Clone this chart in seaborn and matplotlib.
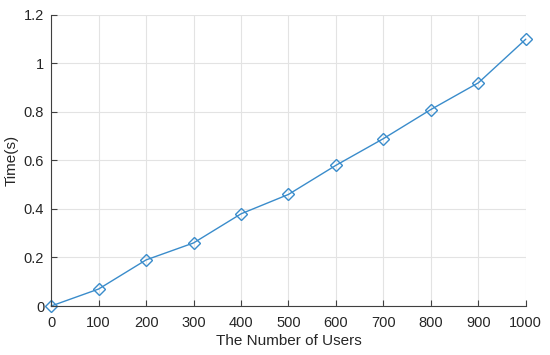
import matplotlib
matplotlib.use("Agg")
import matplotlib.pyplot as plt
import pandas as pd
import seaborn as sns

# data
users = [0, 100, 200, 300, 400, 500, 600, 700, 800, 900, 1000]
time_s = [0.0, 0.07, 0.19, 0.26, 0.38, 0.46, 0.58, 0.69, 0.81, 0.92, 1.10]
x_ticks = [0, 100, 200, 300, 400, 500, 600, 700, 800, 900, 1000]
y_ticks = [0, 0.2, 0.4, 0.6, 0.8, 1.0, 1.2]
y_labels = ["0", "0.2", "0.4", "0.6", "0.8", "1", "1.2"]

df = pd.DataFrame({"users": users, "time": time_s})

sns.set_style("white")
plt.rcParams["font.family"] = ["Liberation Sans", "DejaVu Sans"]

fig = plt.figure(figsize=(5.5, 3.55), dpi=100)
ax = fig.add_axes([0.093, 0.138, 0.863, 0.82])

sns.lineplot(data=df, x="users", y="time", ax=ax, color="#3a8ccb",
             linewidth=1.0, marker="D", markersize=6,
             markerfacecolor="none", markeredgecolor="#3a8ccb",
             markeredgewidth=1.0, clip_on=False)

ax.set_xlim(0, 1000)
ax.set_ylim(0, 1.2)
ax.set_xticks(x_ticks)
ax.set_yticks(y_ticks)
ax.set_yticklabels(y_labels)
ax.grid(True, color="#e3e3e3", linewidth=0.8)
ax.set_axisbelow(True)

for side in ["top", "right"]:
    ax.spines[side].set_visible(False)
for side in ["left", "bottom"]:
    ax.spines[side].set_color("#404040")
    ax.spines[side].set_linewidth(0.8)

ax.tick_params(direction="in", length=4, width=0.8, color="#404040",
               labelsize=10.5, labelcolor="#262626", left=True, bottom=True)
ax.tick_params(axis="x", pad=7)
ax.tick_params(axis="y", pad=5)
ax.set_xlabel("The Number of Users", fontsize=11, color="#262626", labelpad=3)
ax.set_ylabel("Time(s)", fontsize=11, color="#262626", labelpad=4)

fig.savefig("out.png", dpi=100)
